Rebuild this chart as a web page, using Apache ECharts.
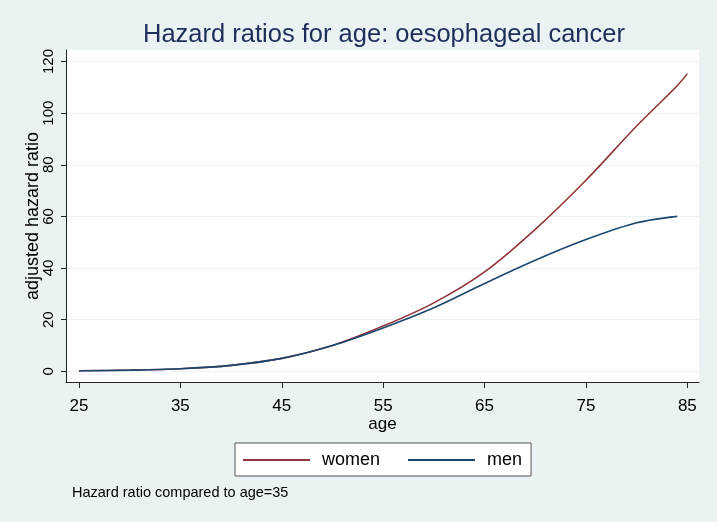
<!DOCTYPE html>
<html>
<head>
<meta charset="utf-8">
<script src="https://cdn.jsdelivr.net/npm/echarts@6/dist/echarts.min.js"></script>
<style>html,body{margin:0;padding:0;background:#EAF2F3;}#c{width:717px;height:522px;}</style>
</head>
<body>
<div id="c"></div>
<script>
var titleText = 'Hazard ratios for age: oesophageal cancer';
var noteText = 'Hazard ratio compared to age=35';
var xTicks = [25, 35, 45, 55, 65, 75, 85];
var yTicks = [0, 20, 40, 60, 80, 100, 120];
var womenAge = [25, 30, 35, 40, 45, 50, 55, 60, 65, 70, 75, 80, 84, 85];
var womenHR  = [0.2, 0.45, 1, 2.3, 5, 10, 17.5, 26.5, 38.5, 55, 74, 95, 110.6, 115.3];
var menAge = [25, 30, 35, 40, 45, 50, 55, 60, 65, 70, 75, 80, 84];
var menHR  = [0.2, 0.45, 1, 2.3, 5, 10, 16.8, 24.6, 34, 43, 51, 57.5, 60];

function pairs(a, b) { return a.map(function (v, i) { return [v, b[i]]; }); }

var font = 'Liberation Sans, Arial, sans-serif';
var chart = echarts.init(document.getElementById('c'));
chart.setOption({
  backgroundColor: '#EAF2F3',
  animation: false,
  title: {
    text: titleText, left: 379, top: 17, textAlign: 'center',
    textStyle: { fontFamily: font, fontSize: 25.5, fontWeight: 'normal', color: '#1E2E5A' }
  },
  graphic: [{
    type: 'text', left: 72, top: 485,
    style: { text: noteText, font: '14.5px ' + font, fill: '#000' }
  }],
  legend: {
    left: 235, top: 443,
    backgroundColor: '#fff', borderColor: '#555', borderWidth: 1,
    padding: [8, 9, 7, 8],
    itemWidth: 67, itemHeight: 2, itemGap: 28, icon: 'rect',
    textStyle: { fontFamily: font, fontSize: 18, color: '#000', padding: [0, 0, 0, 7] },
    data: ['women', 'men']
  },
  grid: {
    left: 66, right: 18, top: 50, bottom: 140,
    show: true, backgroundColor: '#fff', borderWidth: 0, containLabel: false
  },
  xAxis: {
    type: 'value', min: 23.72, max: 86.15,
    name: 'age', nameLocation: 'middle', nameGap: 34, nameMoveOverlap: false,
    nameTextStyle: { fontFamily: font, fontSize: 17, color: '#000' },
    axisLine: { show: true, onZero: false, lineStyle: { color: '#222', width: 1 } },
    axisTick: { show: true, length: 6, customValues: xTicks, lineStyle: { color: '#222' } },
    axisLabel: { customValues: xTicks, margin: 16, fontFamily: font, fontSize: 17, color: '#000' },
    splitLine: { show: false }
  },
  yAxis: {
    type: 'value', min: -4.15, max: 124.45,
    name: 'adjusted hazard ratio', nameLocation: 'middle', nameGap: 24, nameMoveOverlap: false,
    nameTextStyle: { fontFamily: font, fontSize: 18, color: '#000' },
    axisLine: { show: true, onZero: false, lineStyle: { color: '#222', width: 1 } },
    axisTick: { show: true, length: 5, customValues: yTicks, lineStyle: { color: '#222' } },
    axisLabel: { customValues: yTicks, rotate: 90, margin: 10, fontFamily: font, fontSize: 15, color: '#000' },
    splitLine: { show: true, lineStyle: { color: '#EAF2F3', width: 1 } }
  },
  series: [
    {
      name: 'women', type: 'line', data: pairs(womenAge, womenHR),
      smooth: 0.3, showSymbol: false, symbol: 'none',
      lineStyle: { color: '#90353B', width: 1.6 }, itemStyle: { color: '#90353B' }, z: 3
    },
    {
      name: 'men', type: 'line', data: pairs(menAge, menHR),
      smooth: 0.3, showSymbol: false, symbol: 'none',
      lineStyle: { color: '#1A476F', width: 1.6 }, itemStyle: { color: '#1A476F' }, z: 4
    }
  ]
});
</script>
</body>
</html>
